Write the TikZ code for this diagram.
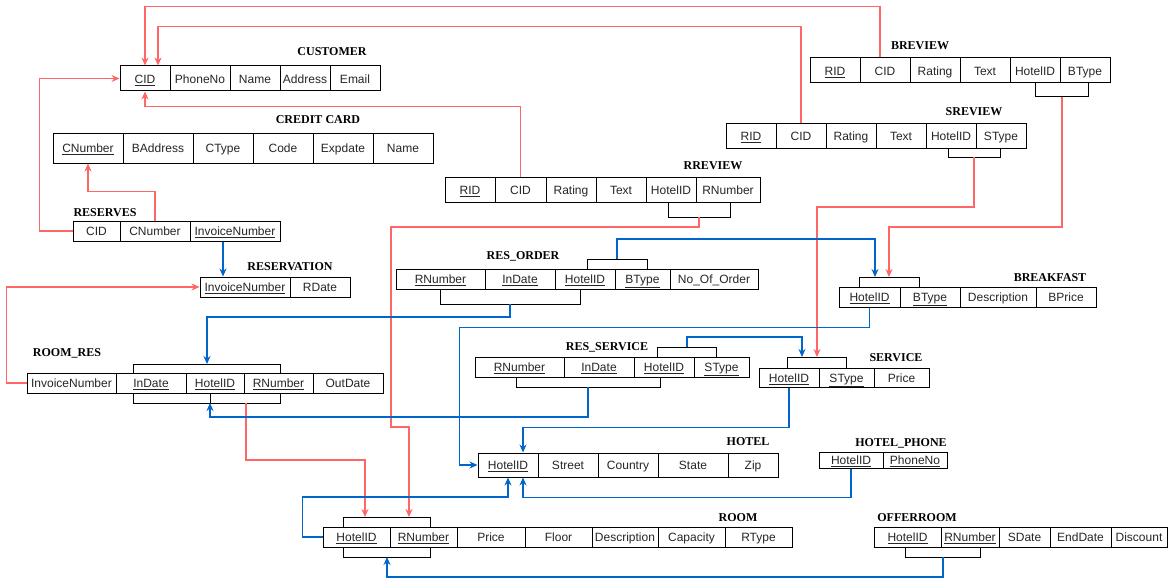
\documentclass[tikz,border=0pt]{standalone}
\usepackage{fontspec}
\setmainfont{Liberation Sans}
\newfontfamily\titlefont{Liberation Serif}
\usetikzlibrary{arrows.meta,positioning}
\definecolor{fkred}{RGB}{255,102,102}
\definecolor{fkblue}{RGB}{0,102,204}
\tikzset{
    schema diagram/.style = {x=1pt, y=-1pt, >={Stealth[length=8pt, width=7pt]}},
    cell/.style           = {draw, line width=1pt, fill=white, inner sep=0pt,
                             text height=10pt, text depth=0.4pt,
                             text=black!85, font=\fontsize{12}{14}\selectfont},
    tabtitle/.style       = {inner sep=0pt,
                             font=\titlefont\bfseries\fontsize{12}{14}\selectfont},
    bracket/.style        = {line width=1pt},
    fk red/.style         = {->, line width=1.1pt, draw=fkred},
    fk blue/.style        = {->, line width=1.1pt, draw=fkblue}
}

\begin{document}
\begin{tikzpicture}[schema diagram]
\useasboundingbox (0,0) rectangle (1171,586);

% ================= Customer side =================
\foreach \n/\a/\b/\t in {cid/120/170/\underline{CID}, phone/170/230/PhoneNo,
    name/230/280/Name, addr/280/330/Address, email/330/380/Email}
  \node[cell, minimum width={(\b-\a)*1pt}, minimum height=25pt] (cus-\n) at ({(\a+\b)/2},78.5) {\t};
\node[tabtitle] (cus-title) at (332,52) {CUSTOMER};

\foreach \n/\a/\b/\t in {cnum/53/123/\underline{CNumber}, baddr/123/193/BAddress,
    ctype/193/253/CType, code/253/313/Code, exp/313/373/Expdate, name/373/433/Name}
  \node[cell, minimum width={(\b-\a)*1pt}, minimum height=30pt] (card-\n) at ({(\a+\b)/2},148) {\t};
\node[tabtitle] (card-title) at (318,120) {CREDIT CARD};

\foreach \n/\a/\b/\t in {cid/73/120/CID, cnum/120/190/CNumber,
    inv/190/280/\underline{InvoiceNumber}}
  \node[cell, minimum width={(\b-\a)*1pt}, minimum height=20pt] (resv-\n) at ({(\a+\b)/2},231) {\t};
\node[tabtitle] (resv-title) at (105,213) {RESERVES};

\foreach \n/\a/\b/\t in {inv/200/290/\underline{InvoiceNumber}, rdate/290/350/RDate}
  \node[cell, minimum width={(\b-\a)*1pt}, minimum height=20pt] (rsvn-\n) at ({(\a+\b)/2},287) {\t};
\node[tabtitle] (rsvn-title) at (290,267) {RESERVATION};

\foreach \n/\a/\b/\t in {inv/27/116/InvoiceNumber, indate/116/186/\underline{InDate},
    hid/186/244/\underline{HotelID}, rnum/244/313/\underline{RNumber}, out/313/383/OutDate}
  \node[cell, minimum width={(\b-\a)*1pt}, minimum height=20pt] (rmres-\n) at ({(\a+\b)/2},383) {\t};
\node[tabtitle] (rmres-title) at (67,353) {ROOM\_RES};

% ================= Orders and services =================
\foreach \n/\a/\b/\t in {rnum/396/485/\underline{RNumber}, indate/485/555/\underline{InDate},
    hid/555/615/\underline{HotelID}, btype/615/670/\underline{BType}, num/670/758/No\_Of\_Order}
  \node[cell, minimum width={(\b-\a)*1pt}, minimum height=20pt] (rord-\n) at ({(\a+\b)/2},279) {\t};
\node[tabtitle] (rord-title) at (523,256) {RES\_ORDER};

\foreach \n/\a/\b/\t in {rnum/475/564/\underline{RNumber}, indate/564/634/\underline{InDate},
    hid/634/694/\underline{HotelID}, stype/694/749/\underline{SType}}
  \node[cell, minimum width={(\b-\a)*1pt}, minimum height=20pt] (rserv-\n) at ({(\a+\b)/2},367) {\t};
\node[tabtitle] (rserv-title) at (607,347) {RES\_SERVICE};

\foreach \n/\a/\b/\t in {hid/759/819/\underline{HotelID}, stype/819/874/\underline{SType},
    price/874/929/Price}
  \node[cell, minimum width={(\b-\a)*1pt}, minimum height=19pt] (serv-\n) at ({(\a+\b)/2},377.5) {\t};
\node[tabtitle] (serv-title) at (896,358) {SERVICE};

\foreach \n/\a/\b/\t in {hid/839/900/\underline{HotelID}, btype/900/960/\underline{BType},
    desc/960/1036/Description, price/1036/1096/BPrice}
  \node[cell, minimum width={(\b-\a)*1pt}, minimum height=20pt] (bfast-\n) at ({(\a+\b)/2},297) {\t};
\node[tabtitle] (bfast-title) at (1050,278) {BREAKFAST};

% ================= Reviews =================
\foreach \n/\a/\b/\t in {rid/445/495/\underline{RID}, cid/495/546/CID, rating/546/596/Rating,
    text/596/646/Text, hid/646/696/HotelID, rnum/696/760/RNumber}
  \node[cell, minimum width={(\b-\a)*1pt}, minimum height=25pt] (rrev-\n) at ({(\a+\b)/2},189.5) {\t};
\node[tabtitle] (rrev-title) at (713,166) {RREVIEW};

\foreach \n/\a/\b/\t in {rid/726/776/\underline{RID}, cid/776/826/CID, rating/826/876/Rating,
    text/876/926/Text, hid/926/976/HotelID, stype/976/1026/SType}
  \node[cell, minimum width={(\b-\a)*1pt}, minimum height=25pt] (srev-\n) at ({(\a+\b)/2},135.5) {\t};
\node[tabtitle] (srev-title) at (974,112) {SREVIEW};

\foreach \n/\a/\b/\t in {rid/810/860/\underline{RID}, cid/860/910/CID, rating/910/960/Rating,
    text/960/1010/Text, hid/1010/1060/HotelID, btype/1060/1110/BType}
  \node[cell, minimum width={(\b-\a)*1pt}, minimum height=25pt] (brev-\n) at ({(\a+\b)/2},70.5) {\t};
\node[tabtitle] (brev-title) at (920,46) {BREVIEW};

% ================= Hotel and rooms =================
\foreach \n/\a/\b/\t in {hid/478/538/\underline{HotelID}, street/538/598/Street,
    country/598/658/Country, state/658/728/State, zip/728/778/Zip}
  \node[cell, minimum width={(\b-\a)*1pt}, minimum height=24pt] (hotel-\n) at ({(\a+\b)/2},465) {\t};
\node[tabtitle] (hotel-title) at (748,442) {HOTEL};

\foreach \n/\a/\b/\t in {hid/819/883/\underline{HotelID}, phone/883/947/\underline{PhoneNo}}
  \node[cell, minimum width={(\b-\a)*1pt}, minimum height=16pt] (hphone-\n) at ({(\a+\b)/2},460) {\t};
\node[tabtitle] (hphone-title) at (901,443) {HOTEL\_PHONE};

\foreach \n/\a/\b/\t in {hid/323/390/\underline{HotelID}, rnum/390/457/\underline{RNumber},
    price/457/525/Price, floor/525/592/Floor, desc/592/658/Description,
    cap/658/725/Capacity, rtype/725/792/RType}
  \node[cell, minimum width={(\b-\a)*1pt}, minimum height=20pt] (room-\n) at ({(\a+\b)/2},537) {\t};
\node[tabtitle] (room-title) at (738,518) {ROOM};

\foreach \n/\a/\b/\t in {hid/874/941/\underline{HotelID}, rnum/941/999/\underline{RNumber},
    sdate/999/1050/SDate, edate/1050/1111/EndDate, disc/1111/1167/Discount}
  \node[cell, minimum width={(\b-\a)*1pt}, minimum height=20pt] (offer-\n) at ({(\a+\b)/2},537) {\t};
\node[tabtitle] (offer-title) at (917,518) {OFFERROOM};

% ================= Composite key brackets =================
\draw[bracket] (133,373) |- (280,364) -- (280,373);
\draw[bracket] (133,393) |- (280,403) -- (280,393);
\draw[bracket] (210,393) -- (210,403);
\draw[bracket] (587,269) |- (647,259) -- (647,269);
\draw[bracket] (440,289) |- (580,304) -- (580,289);
\draw[bracket] (657,357) |- (716,347) -- (716,357);
\draw[bracket] (516,377) |- (660,387) -- (660,377);
\draw[bracket] (787,368) |- (846,357) -- (846,368);
\draw[bracket] (859,287) |- (919,277) -- (919,287);
\draw[bracket] (1035,83) |- (1088,97) -- (1088,83);
\draw[bracket] (948,148) |- (1000,157) -- (1000,148);
\draw[bracket] (668,202) |- (730,217) -- (730,202);
\draw[bracket] (343,527) |- (430,517) -- (430,527);
\draw[bracket] (343,547) |- (430,557) -- (430,547);
\draw[bracket] (905,547) |- (980,557) -- (980,547);

\coordinate (rmres-up)   at (207,364);
\coordinate (rmres-low)  at (210,403);
\coordinate (rmres-out)  at (246,403);
\coordinate (rord-up)    at (617,259);
\coordinate (rord-low)   at (510,304);
\coordinate (rserv-up)   at (687,347);
\coordinate (rserv-low)  at (588,387);
\coordinate (serv-in-b)  at (802,357);
\coordinate (serv-in-r)  at (817,357);
\coordinate (bfast-in-b) at (875,277);
\coordinate (bfast-in-r) at (889,277);
\coordinate (brev-low)   at (1062,97);
\coordinate (srev-low)   at (974,157);
\coordinate (rrev-low)   at (699,217);
\coordinate (room-in-a)  at (365,517);
\coordinate (room-in-b)  at (409,517);
\coordinate (room-low)   at (387,557);
\coordinate (offer-low)  at (943,557);

% ================= Foreign keys (red) =================
\draw[fk red] ([xshift=-5pt]brev-cid.north) -- ++(0,-51) -| (cus-cid.north);
\draw[fk red] (srev-cid.north) -- ++(0,-96) -| ([xshift=13pt]cus-cid.north);
\draw[fk red] (rrev-cid.north) -- ++(0,-70) -| (cus-cid.south);
\draw[fk red] (resv-cid.west) -- ++(-33,0) |- (cus-cid.west);
\draw[fk red] (resv-cnum.north) -- ++(0,-29) -| (card-cnum.south);
\draw[fk red] (rmres-inv.west) -- ++(-20,0) |- (rsvn-inv.west);
\draw[fk red] (brev-low) -- ++(0,130) -| (bfast-in-r);
\draw[fk red] (srev-low) -- ++(0,50) -| (serv-in-r);
\draw[fk red] (rrev-low) -- ++(0,10) -- ++(-308,0) -- ++(0,200) -| (room-in-b);
\draw[fk red] (rmres-out) -- ++(0,57) -| (room-in-a);

% ================= Foreign keys (blue) =================
\draw[fk blue] ([xshift=-12pt]resv-inv.south) -- ([xshift=-22pt]rsvn-inv.north);
\draw[fk blue] (rord-low) -- ++(0,13) -| (rmres-up);
\draw[fk blue] (rord-up) -- ++(0,-20) -| (bfast-in-b);
\draw[fk blue] (rserv-up) -- ++(0,-10) -| (serv-in-b);
\draw[fk blue] (rserv-low) -- ++(0,30) -| (rmres-low);
\draw[fk blue] (bfast-hid.south) -- ++(0,20) -| ([xshift=-18pt]hotel-hid.west) -- (hotel-hid.west);
\draw[fk blue] (serv-hid.south) -- ++(0,40) -| ([xshift=15pt]hotel-hid.north);
\draw[fk blue] (room-hid.west) -- ++(-20,0) -- ++(0,-40) -| (hotel-hid.south);
\draw[fk blue] (hphone-hid.south) -- ++(0,29) -| ([xshift=15pt]hotel-hid.south);
\draw[fk blue] (offer-low) -- ++(0,20) -| (room-low);

\end{tikzpicture}
\end{document}
